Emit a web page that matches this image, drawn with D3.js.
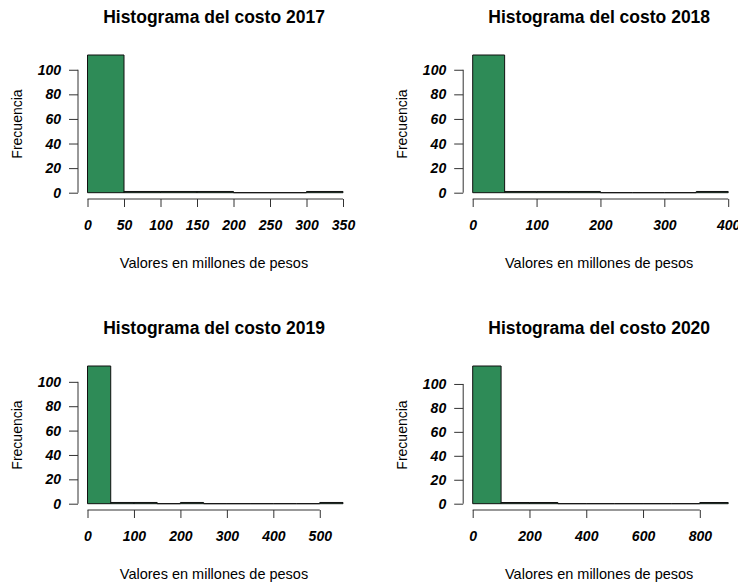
<!DOCTYPE html>
<html>
<head>
<meta charset="utf-8">
<script src="https://cdn.jsdelivr.net/npm/d3@7"></script>
<style>
  html, body { margin: 0; padding: 0; background: #fff; }
  svg { display: block; }
  text { font-family: "Liberation Sans", Arial, sans-serif; fill: #000; }
</style>
</head>
<body>
<svg id="chart" width="738" height="586"></svg>
<script>
// ---- Data ----
const titles = ["Histograma del costo 2017", "Histograma del costo 2018", "Histograma del costo 2019", "Histograma del costo 2020"];
const xLabel = "Valores en millones de pesos";
const yLabel = "Frecuencia";

const breaks2017 = [0, 50, 100, 150, 200, 250, 300, 350];
const counts2017 = [112, 1, 1, 1, 0, 0, 1];
const xTicks2017 = [0, 50, 100, 150, 200, 250, 300, 350];

const breaks2018 = [0, 50, 100, 150, 200, 250, 300, 350, 400];
const counts2018 = [112, 1, 1, 1, 0, 0, 0, 1];
const xTicks2018 = [0, 100, 200, 300, 400];

const breaks2019 = [0, 50, 100, 150, 200, 250, 300, 350, 400, 450, 500, 550];
const counts2019 = [113, 1, 1, 0, 1, 0, 0, 0, 0, 0, 1];
const xTicks2019 = [0, 100, 200, 300, 400, 500];

const breaks2020 = [0, 100, 200, 300, 400, 500, 600, 700, 800, 900];
const counts2020 = [115, 1, 1, 0, 0, 0, 0, 0, 1];
const xTicks2020 = [0, 200, 400, 600, 800];

const yTicks = [0, 20, 40, 60, 80, 100];

const panels = [
  { title: titles[0], breaks: breaks2017, counts: counts2017, xTicks: xTicks2017, col: 0, row: 0 },
  { title: titles[1], breaks: breaks2018, counts: counts2018, xTicks: xTicks2018, col: 1, row: 0 },
  { title: titles[2], breaks: breaks2019, counts: counts2019, xTicks: xTicks2019, col: 0, row: 1 },
  { title: titles[3], breaks: breaks2020, counts: counts2020, xTicks: xTicks2020, col: 1, row: 1 }
];

// ---- Layout ----
const colOffset = [0, 385.2];
const rowOffset = [0, 311];
const px0 = 87.5, px1 = 343;      // pixel of first / last break
const pyBase = 192.7, pyTop = 55; // pixel of count 0 / max count
const axisY = 199, axisX = 78;
const tickLen = 8;

const svg = d3.select("#chart");

panels.forEach(p => {
  const ox = colOffset[p.col], oy = rowOffset[p.row];
  const g = svg.append("g").attr("transform", `translate(${ox},${oy})`);
  const xmax = p.breaks[p.breaks.length - 1];
  const ymax = d3.max(p.counts);
  const x = d3.scaleLinear().domain([0, xmax]).range([px0, px1]);
  const y = d3.scaleLinear().domain([0, ymax]).range([pyBase, pyTop]);

  const bins = p.counts.map((c, i) => ({ x0: p.breaks[i], x1: p.breaks[i + 1], c }));

  g.selectAll("path.bar").data(bins).enter().append("path")
    .attr("class", "bar")
    .attr("d", d => {
      const l = x(d.x0), r = x(d.x1), t = y(d.c), b = y(0);
      return `M${l},${b}V${t}H${r}V${b}Z`;
    })
    .attr("fill", "#2E8B57")
    .attr("stroke", "#111")
    .attr("stroke-width", 1);

  // x axis
  const xa = g.append("g").attr("transform", `translate(0,${axisY})`)
    .call(d3.axisBottom(x).tickValues(p.xTicks).tickSize(tickLen).tickSizeOuter(0).tickPadding(13).tickFormat(d3.format("d")));
  xa.select(".domain").attr("d", `M${x(p.xTicks[0])},0H${x(p.xTicks[p.xTicks.length - 1])}`).attr("stroke", "#333");
  xa.selectAll(".tick line").attr("stroke", "#333");
  xa.selectAll(".tick text").attr("font-size", 14).attr("font-weight", "bold").attr("font-style", "italic")
    .attr("font-family", "Liberation Sans, Arial, sans-serif").attr("fill", "#000");

  // y axis
  const ya = g.append("g").attr("transform", `translate(${axisX},0)`)
    .call(d3.axisLeft(y).tickValues(yTicks).tickSize(tickLen + 1).tickSizeOuter(0).tickPadding(8).tickFormat(d3.format("d")));
  ya.select(".domain").attr("d", `M0,${y(0)}V${y(100)}`).attr("stroke", "#333");
  ya.selectAll(".tick line").attr("stroke", "#333");
  ya.selectAll(".tick text").attr("font-size", 14).attr("font-weight", "bold").attr("font-style", "italic")
    .attr("font-family", "Liberation Sans, Arial, sans-serif").attr("fill", "#000");

  // titles
  g.append("text").attr("x", 214).attr("y", 23).attr("text-anchor", "middle")
    .attr("font-size", 17.5).attr("font-weight", "bold").text(p.title);
  g.append("text").attr("x", 214).attr("y", 268).attr("text-anchor", "middle")
    .attr("font-size", 14.5).attr("fill", "#222").text(xLabel);
  g.append("text").attr("transform", `translate(22,124) rotate(-90)`).attr("text-anchor", "middle")
    .attr("font-size", 14).attr("fill", "#222").text(yLabel);
});
</script>
</body>
</html>
